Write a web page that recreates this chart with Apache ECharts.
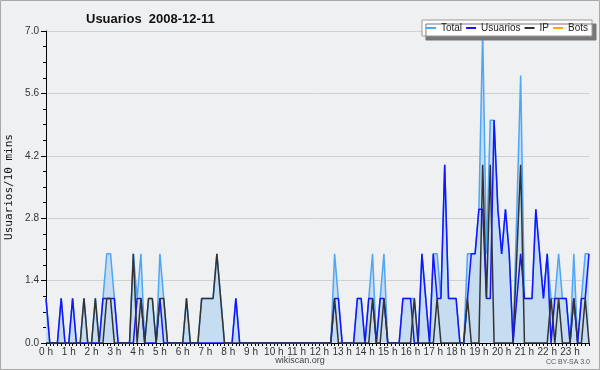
<!DOCTYPE html>
<html>
<head>
<meta charset="utf-8">
<script src="https://cdn.jsdelivr.net/npm/echarts@6/dist/echarts.min.js"></script>
<style>
  html, body { margin: 0; padding: 0; background: #eff0f2; }
  #chart { width: 600px; height: 370px; }
</style>
</head>
<body>
<div id="chart"></div>
<script>
// one value per 10 minutes, 144 slots
const hourLabels = ['0 h', '1 h', '2 h', '3 h', '4 h', '5 h', '6 h', '7 h', '8 h', '9 h', '10 h', '11 h',
  '12 h', '13 h', '14 h', '15 h', '16 h', '17 h', '18 h', '19 h', '20 h', '21 h', '22 h', '23 h'];
const yTicks = [0, 1.4, 2.8, 4.2, 5.6, 7.0];

const total = [
  1, 0, 0, 0, 1, 0, 0, 1, 0, 0, 1, 0,
  0, 1, 0, 1, 2, 2, 1, 0, 0, 0, 0, 2,
  1, 2, 0, 1, 1, 0, 2, 1, 0, 0, 0, 0,
  0, 1, 0, 0, 0, 1, 1, 1, 1, 2, 1, 0,
  0, 0, 1, 0, 0, 0, 0, 0, 0, 0, 0, 0,
  0, 0, 0, 0, 0, 0, 0, 0, 0, 0, 0, 0,
  0, 0, 0, 0, 2, 1, 0, 0, 0, 0, 1, 1,
  0, 1, 2, 0, 1, 2, 0, 0, 0, 0, 1, 1,
  1, 1, 0, 2, 1, 0, 2, 2, 1, 4, 1, 1,
  1, 0, 0, 2, 2, 2, 3, 7, 2, 5, 5, 3,
  2, 3, 2, 0, 3, 6, 1, 1, 1, 3, 2, 1,
  2, 1, 1, 2, 1, 1, 0, 2, 0, 1, 2, 2
];
const usuarios = [
  1, 0, 0, 0, 1, 0, 0, 1, 0, 0, 0, 0,
  0, 0, 0, 1, 1, 1, 1, 0, 0, 0, 0, 0,
  1, 1, 0, 0, 0, 0, 1, 0, 0, 0, 0, 0,
  0, 0, 0, 0, 0, 0, 0, 0, 0, 0, 0, 0,
  0, 0, 1, 0, 0, 0, 0, 0, 0, 0, 0, 0,
  0, 0, 0, 0, 0, 0, 0, 0, 0, 0, 0, 0,
  0, 0, 0, 0, 1, 1, 0, 0, 0, 0, 1, 1,
  0, 1, 1, 0, 1, 1, 0, 0, 0, 0, 1, 1,
  1, 0, 0, 2, 1, 0, 2, 1, 1, 4, 1, 1,
  1, 0, 0, 1, 2, 2, 3, 3, 1, 1, 5, 3,
  2, 3, 2, 0, 1, 2, 1, 1, 1, 3, 2, 1,
  2, 0, 1, 1, 1, 1, 0, 1, 0, 1, 1, 2
];
const ip = [
  0, 0, 0, 0, 0, 0, 0, 0, 0, 0, 1, 0,
  0, 1, 0, 0, 1, 1, 0, 0, 0, 0, 0, 2,
  0, 1, 0, 1, 1, 0, 1, 1, 0, 0, 0, 0,
  0, 1, 0, 0, 0, 1, 1, 1, 1, 2, 1, 0,
  0, 0, 0, 0, 0, 0, 0, 0, 0, 0, 0, 0,
  0, 0, 0, 0, 0, 0, 0, 0, 0, 0, 0, 0,
  0, 0, 0, 0, 1, 0, 0, 0, 0, 0, 0, 0,
  0, 0, 1, 0, 0, 1, 0, 0, 0, 0, 0, 0,
  0, 1, 0, 0, 0, 0, 0, 1, 0, 0, 0, 0,
  0, 0, 0, 1, 0, 0, 0, 4, 1, 4, 0, 0,
  0, 0, 0, 0, 2, 4, 0, 0, 0, 0, 0, 0,
  0, 1, 0, 1, 0, 0, 0, 1, 0, 0, 1, 0
];
const bots = [
  0, 0, 0, 0, 0, 0, 0, 0, 0, 0, 0, 0,
  0, 0, 0, 0, 0, 0, 0, 0, 0, 0, 0, 0,
  0, 0, 0, 0, 0, 0, 0, 0, 0, 0, 0, 0,
  0, 0, 0, 0, 0, 0, 0, 0, 0, 0, 0, 0,
  0, 0, 0, 0, 0, 0, 0, 0, 0, 0, 0, 0,
  0, 0, 0, 0, 0, 0, 0, 0, 0, 0, 0, 0,
  0, 0, 0, 0, 0, 0, 0, 0, 0, 0, 0, 0,
  0, 0, 0, 0, 0, 0, 0, 0, 0, 0, 0, 0,
  0, 0, 0, 0, 0, 0, 0, 0, 0, 0, 0, 0,
  0, 0, 0, 0, 0, 0, 0, 0, 0, 0, 0, 0,
  0, 0, 0, 0, 0, 0, 0, 0, 0, 0, 0, 0,
  0, 0, 0, 0, 0, 0, 0, 0, 0, 0, 0, 0
];

const slots = [];
for (let i = 0; i < total.length; i++) {
  slots.push(Math.floor(i / 6) + ':' + (i % 6) + '0');
}

const font = "'Liberation Sans', Arial, sans-serif";

const myChart = echarts.init(document.getElementById('chart'));
const lineSeries = (name, data, color) => ({
  name: name,
  type: 'line',
  data: data,
  symbol: 'none',
  lineStyle: { color: color, width: 1.5 },
  itemStyle: { color: color },
});

const option = {
  animation: false,
  backgroundColor: '#eff0f2',
  title: {
    text: 'Usuarios  2008-12-11',
    left: 81,
    top: 8,
    textStyle: { fontFamily: font, fontSize: 13, fontWeight: 'bold', color: '#111' },
  },
  legend: {
    right: 8,
    top: 20,
    padding: [3, 4],
    itemGap: 4,
    itemWidth: 10,
    itemHeight: 2,
    icon: 'rect',
    backgroundColor: '#fff',
    borderColor: '#999',
    borderWidth: 1,
    borderRadius: 0,
    shadowColor: '#777',
    shadowOffsetX: 4,
    shadowOffsetY: 4,
    shadowBlur: 0,
    textStyle: { fontFamily: font, fontSize: 10, color: '#222' },
    data: ['Total', 'Usuarios', 'IP', 'Bots'],
  },
  grid: { left: 46, right: 11, top: 31, bottom: 27, outerBoundsMode: 'none' },
  xAxis: {
    type: 'category',
    boundaryGap: false,
    data: slots,
    axisLine: { lineStyle: { color: '#000', width: 1 } },
    axisTick: { interval: 0, length: 3, lineStyle: { color: '#000' } },
    axisLabel: {
      interval: 5,
      margin: 4,
      fontFamily: font,
      fontSize: 10,
      color: '#333',
      formatter: (v, idx) => hourLabels[Math.floor(idx / 6)],
    },
    splitLine: { show: false },
  },
  yAxis: {
    type: 'value',
    min: yTicks[0],
    max: yTicks[yTicks.length - 1],
    interval: yTicks[1],
    name: 'Usuarios/10 mins',
    nameLocation: 'middle',
    nameGap: 31,
    nameTextStyle: { fontFamily: "'DejaVu Sans Mono', monospace", fontSize: 11, color: '#111' },
    axisLine: { show: true, lineStyle: { color: '#000' } },
    axisTick: { show: true, length: 5, lineStyle: { color: '#000' } },
    minorTick: { show: true, splitNumber: 4, length: 3, lineStyle: { color: '#000' } },
    axisLabel: {
      margin: 7,
      fontFamily: font,
      fontSize: 10,
      color: '#333',
      formatter: (v) => v.toFixed(1),
    },
    splitLine: { lineStyle: { color: '#cfd0d2' } },
  },
  graphic: [
    {
      type: 'rect',
      shape: { x: 0.5, y: 0.5, width: 599, height: 369 },
      style: { fill: 'none', stroke: '#a8a8a8', lineWidth: 1 },
      silent: true,
    },
    {
      type: 'text',
      left: 'center',
      top: 356,
      style: { text: 'wikiscan.org', fill: '#444', font: '9px ' + font },
    },
    {
      type: 'text',
      right: 10,
      top: 359,
      style: { text: 'CC BY-SA 3.0', fill: '#555', font: '7px ' + font },
    },
  ],
  series: [
    Object.assign(lineSeries('Total', total, '#4ea6f6'), {
      areaStyle: { color: '#c6dcf0', opacity: 1 },
    }),
    lineSeries('Usuarios', usuarios, '#1414ff'),
    lineSeries('IP', ip, '#333'),
    // bots stay at zero, hidden under the axis in the original
    Object.assign(lineSeries('Bots', bots, '#ffa500'), { z: 1, lineStyle: { color: '#ffa500', width: 1.5, opacity: 0 } }),
  ],
};
myChart.setOption(option);
</script>
</body>
</html>
